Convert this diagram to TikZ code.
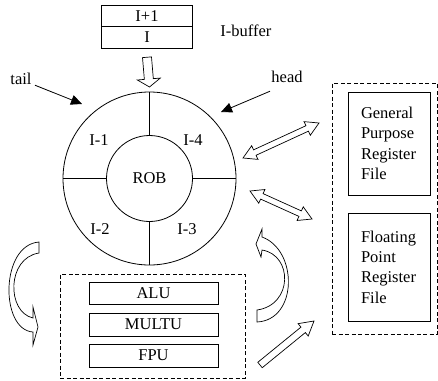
\documentclass[tikz,border=0pt]{standalone}
\usepackage{fontspec}
\setmainfont{Liberation Serif}
\usetikzlibrary{calc,arrows.meta}

% hollow single-headed block arrow: from, to, shaft half width, head half width, head length
\newcommand\blockarrow[5]{%
  \draw[blockfill]
    ($(#1)!#3!90:(#2)$) --
    ($(#2)!#5!(#1)!#3!-90:(#1)$) --
    ($(#2)!#5!(#1)!#4!-90:(#1)$) --
    (#2) --
    ($(#2)!#5!(#1)!#4!90:(#1)$) --
    ($(#2)!#5!(#1)!#3!90:(#1)$) --
    ($(#1)!#3!-90:(#2)$) -- cycle;}

% hollow double-headed block arrow
\newcommand\blockdarrow[5]{%
  \draw[blockfill]
    (#1) --
    ($(#1)!#5!(#2)!#4!90:(#2)$) --
    ($(#1)!#5!(#2)!#3!90:(#2)$) --
    ($(#2)!#5!(#1)!#3!-90:(#1)$) --
    ($(#2)!#5!(#1)!#4!-90:(#1)$) --
    (#2) --
    ($(#2)!#5!(#1)!#4!90:(#1)$) --
    ($(#2)!#5!(#1)!#3!90:(#1)$) --
    ($(#1)!#5!(#2)!#3!-90:(#2)$) --
    ($(#1)!#5!(#2)!#4!-90:(#2)$) -- cycle;}

\begin{document}
\begin{tikzpicture}[x=1pt, y=-1pt, line width=0.8pt,
  every node/.style={font=\fontsize{16.5}{20.4}\selectfont},
  box/.style={draw, inner sep=0pt, outer sep=0pt},
  regbox/.style={draw, outer sep=0pt, inner sep=12.5pt, text width=57pt,
    align=left, minimum width=82pt},
  dashbox/.style={draw, dash pattern=on 4pt off 2.5pt, inner sep=0pt, outer sep=0pt},
  lbl/.style={inner sep=0pt},
  blockfill/.style={draw, fill=white, line join=miter, line width=0.7pt},
  pointer/.style={-{Triangle[length=11pt,width=10pt]}, line width=0.8pt}
]
\useasboundingbox (0,0) rectangle (438,380);

% instruction buffer
\node[box, minimum width=91, minimum height=21.5] (buf1) at (147,16) {I+1};
\node[box, minimum width=91, minimum height=21.5, anchor=north] (buf0) at (buf1.south) {I};
\node[lbl, anchor=west] (buflbl) at (220,31) {I-buffer};

% reorder buffer ring
\node[circle, draw, minimum size=173, inner sep=0pt, outer sep=0pt] (ring) at (149.5,178.5) {};
\node[circle, draw, minimum size=86, inner sep=0pt, outer sep=0pt] (rob) at (ring.center) {ROB};
\draw (rob.north) -- (ring.north);
\draw (rob.south) -- (ring.south);
\draw (rob.west) -- (ring.west);
\draw (rob.east) -- (ring.east);
\node[lbl] (e1) at (99,140) {I-1};
\node[lbl] (e4) at (193,140) {I-4};
\node[lbl] (e2) at (100,229) {I-2};
\node[lbl] (e3) at (187,229) {I-3};

% issue from the buffer into the ring
\coordinate (feedtop) at ([yshift=-9pt]buf0.south);
\coordinate (feedtip) at ([yshift=5pt]ring.north);
\blockarrow{feedtop}{feedtip}{4.5pt}{11.5pt}{8pt}

% tail and head pointers
\node[lbl] (taillbl) at (21,79) {tail};
\coordinate (tailtip) at (82,104);
\draw[pointer] ([xshift=3pt]taillbl.south east) -- (tailtip);
\node[lbl] (headlbl) at (287,77) {head};
\coordinate (headtip) at (221,112);
\draw[pointer] ([xshift=-1pt,yshift=-8pt]headlbl.south west) -- (headtip);

% register files
\node[dashbox, minimum width=105, minimum height=251, anchor=north west] (regs) at (332,83) {};
\node[regbox, minimum height=103] (gpr) at (389.5,143.5) {General\\Purpose\\Register\\File};
\node[regbox, minimum height=108] (fpr) at (389.5,267) {Floating\\Point\\Register\\File};

% functional units
\node[dashbox, minimum width=185, minimum height=104] (units) at (152.5,326) {};
\node[box, minimum width=129, minimum height=22] (alu) at (153.5,293) {ALU};
\node[box, minimum width=129, minimum height=23] (mul) at (153.5,324.5) {MULTU};
\node[box, minimum width=129, minimum height=23] (fpu) at (153.5,355.5) {FPU};

% ring <-> register files
\coordinate (ga) at (243,158);
\coordinate (gb) at (319,123);
\blockdarrow{ga}{gb}{3pt}{7.5pt}{13pt}
\coordinate (fa) at (250,191);
\coordinate (fb) at (312,219);
\blockdarrow{fa}{fb}{3pt}{7.5pt}{13pt}

% units -> register files
\coordinate (wa) at (260,365);
\coordinate (wb) at (314,321);
\blockarrow{wa}{wb}{3.5pt}{8pt}{14pt}

% dispatch: ring -> units
\draw[blockfill] (39,242) -- (39,253) .. controls (6.5,258) and (6.5,312) .. (33,318)
  -- (33,307) -- (38,327) -- (33,345) -- (33,332)
  .. controls (0,330) and (0,245) .. (39,242) -- cycle;

% completion: units -> ring
\draw[blockfill] (257,322) -- (257,310) .. controls (293,305) and (293,255) .. (262,250)
  -- (261,257) -- (256,244) -- (262,229) -- (262,237)
  .. controls (298,250) and (298,320) .. (257,322) -- cycle;
\end{tikzpicture}
\end{document}
